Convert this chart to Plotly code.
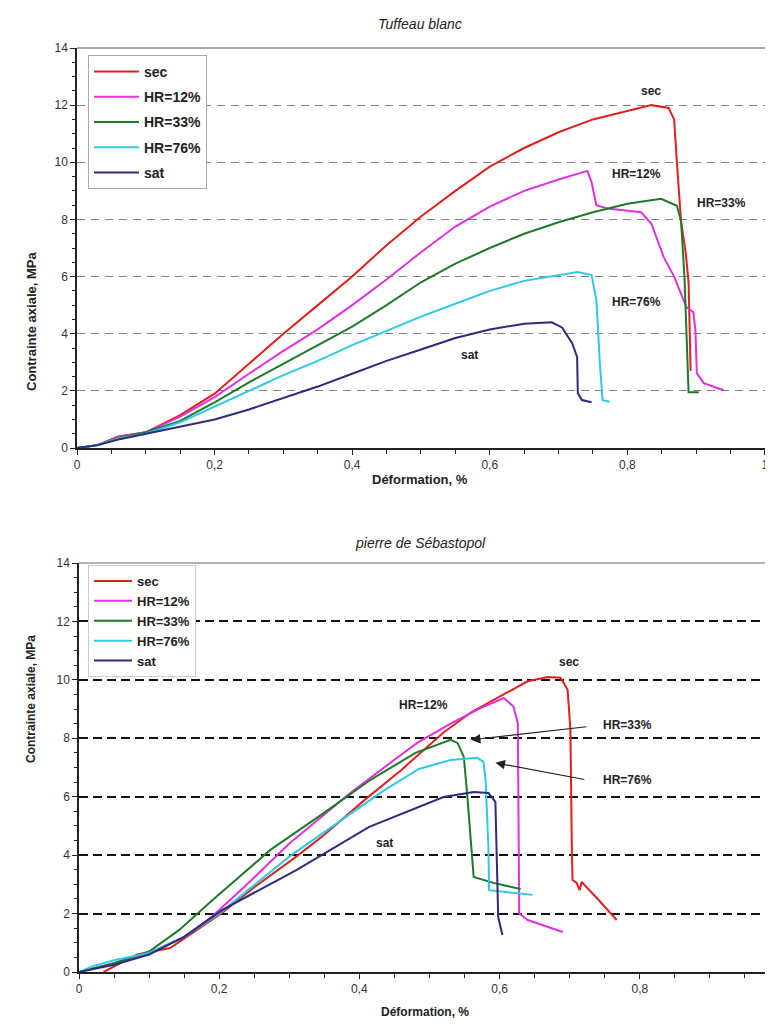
import plotly.graph_objects as go

# ---------------- data : Tuffeau blanc ----------------
names = ["sec", "HR=12%", "HR=33%", "HR=76%", "sat"]
colors = ["#e0201e", "#e030e0", "#1e7a2a", "#30c8e8", "#2c2c7c"]

t_sec_x = [0, 0.03, 0.06, 0.1, 0.15, 0.2, 0.25, 0.3, 0.35, 0.4, 0.45, 0.5, 0.55, 0.6, 0.65, 0.7, 0.75, 0.8,
           0.835, 0.86, 0.868, 0.872, 0.878, 0.885, 0.889, 0.892]
t_sec_y = [0, 0.1, 0.4, 0.55, 1.15, 1.9, 2.95, 4.0, 5.0, 6.0, 7.1, 8.1, 9.0, 9.85, 10.5, 11.05, 11.5, 11.8,
           12.0, 11.9, 11.5, 10.0, 7.96, 6.8, 5.8, 2.7]

t_h12_x = [0, 0.03, 0.06, 0.1, 0.15, 0.2, 0.25, 0.3, 0.35, 0.4, 0.45, 0.5, 0.55, 0.6, 0.65, 0.7, 0.742,
           0.748, 0.755, 0.771, 0.82, 0.835, 0.853, 0.868, 0.886, 0.896, 0.899, 0.901, 0.911, 0.94]
t_h12_y = [0, 0.1, 0.38, 0.55, 1.1, 1.78, 2.6, 3.4, 4.15, 5.0, 5.9, 6.85, 7.75, 8.45, 9.0, 9.4, 9.7,
           9.3, 8.5, 8.38, 8.25, 7.85, 6.67, 6.0, 4.92, 4.75, 4.12, 2.62, 2.27, 2.02]

t_h33_x = [0, 0.03, 0.06, 0.1, 0.15, 0.2, 0.25, 0.3, 0.35, 0.4, 0.45, 0.5, 0.55, 0.6, 0.65, 0.7, 0.75, 0.8,
           0.849, 0.872, 0.878, 0.883, 0.886, 0.889, 0.904]
t_h33_y = [0, 0.1, 0.35, 0.55, 0.95, 1.6, 2.3, 2.95, 3.6, 4.25, 5.0, 5.8, 6.45, 7.0, 7.5, 7.9, 8.25, 8.55,
           8.72, 8.48, 7.95, 6.0, 4.0, 1.95, 1.95]

t_h76_x = [0, 0.03, 0.06, 0.1, 0.15, 0.2, 0.25, 0.3, 0.35, 0.4, 0.45, 0.5, 0.55, 0.6, 0.65, 0.7, 0.728,
           0.748, 0.755, 0.76, 0.762, 0.764, 0.774]
t_h76_y = [0, 0.1, 0.33, 0.5, 0.9, 1.45, 2.0, 2.55, 3.05, 3.6, 4.1, 4.6, 5.05, 5.5, 5.85, 6.05, 6.16,
           6.05, 5.17, 2.97, 2.27, 1.68, 1.62]

t_sat_x = [0, 0.03, 0.06, 0.1, 0.15, 0.2, 0.25, 0.3, 0.35, 0.4, 0.45, 0.5, 0.55, 0.6, 0.65, 0.69,
           0.705, 0.72, 0.727, 0.728, 0.734, 0.748]
t_sat_y = [0, 0.1, 0.3, 0.5, 0.75, 1.0, 1.35, 1.75, 2.15, 2.6, 3.05, 3.45, 3.85, 4.15, 4.35, 4.4,
           4.22, 3.66, 3.18, 1.92, 1.68, 1.6]

# ---------------- data : pierre de Sébastopol ----------------
s_sec_x = [0.035, 0.06, 0.083, 0.13, 0.169, 0.204, 0.25, 0.31, 0.35, 0.408, 0.459, 0.52, 0.56, 0.606, 0.64,
           0.669, 0.687, 0.697, 0.701, 0.703, 0.704, 0.71, 0.714, 0.717, 0.74, 0.767]
s_sec_y = [0, 0.3, 0.6, 0.82, 1.44, 2.02, 2.9, 3.95, 4.7, 5.9, 6.9, 8.2, 8.9, 9.5, 9.95,
           10.1, 10.07, 9.66, 8.29, 4.28, 3.15, 3.05, 2.8, 3.08, 2.5, 1.78]

s_h12_x = [0, 0.05, 0.1, 0.15, 0.19, 0.244, 0.3, 0.387, 0.459, 0.483, 0.53, 0.577, 0.606, 0.62, 0.626,
           0.627, 0.628, 0.64, 0.69]
s_h12_y = [0, 0.3, 0.65, 1.2, 1.9, 3.1, 4.4, 6.13, 7.43, 7.85, 8.5, 9.08, 9.38, 9.08, 8.5,
           4.3, 2.0, 1.78, 1.37]

s_h33_x = [0, 0.05, 0.1, 0.143, 0.191, 0.273, 0.349, 0.416, 0.48, 0.53, 0.54, 0.549, 0.554, 0.559, 0.563,
           0.591, 0.63]
s_h33_y = [0, 0.3, 0.7, 1.44, 2.47, 4.18, 5.44, 6.58, 7.5, 7.95, 7.84, 7.36, 6.0, 4.28, 3.25,
           3.05, 2.84]

s_h76_x = [0, 0.02, 0.05, 0.1, 0.15, 0.2, 0.3, 0.38, 0.434, 0.485, 0.53, 0.568, 0.577, 0.58, 0.584,
           0.585, 0.647]
s_h76_y = [0, 0.2, 0.4, 0.65, 1.2, 2.0, 3.95, 5.3, 6.2, 6.95, 7.26, 7.33, 7.19, 6.57, 4.28,
           2.8, 2.64]

s_sat_x = [0, 0.05, 0.1, 0.15, 0.204, 0.31, 0.414, 0.459, 0.52, 0.563, 0.584, 0.594, 0.598, 0.604]
s_sat_y = [0, 0.25, 0.6, 1.2, 2.12, 3.49, 4.97, 5.4, 5.99, 6.16, 6.13, 5.82, 1.88, 1.27]

y_ticks = [0, 2, 4, 6, 8, 10, 12, 14]
x_ticks = [0, 0.2, 0.4, 0.6, 0.8, 1]

top_series = [(t_sec_x, t_sec_y), (t_h12_x, t_h12_y), (t_h33_x, t_h33_y), (t_h76_x, t_h76_y), (t_sat_x, t_sat_y)]
bot_series = [(s_sec_x, s_sec_y), (s_h12_x, s_h12_y), (s_h33_x, s_h33_y), (s_h76_x, s_h76_y), (s_sat_x, s_sat_y)]

FONT = "Liberation Sans, Arial, sans-serif"
OFF = 8            # page body margin
W, H = 773 - OFF, 1036 - OFF

def PX(p):
    return (p - OFF) / W

def PY(p):
    return 1 - (p - OFF) / H

fig = go.Figure()

for i, (xs, ys) in enumerate(top_series):
    fig.add_trace(go.Scatter(x=xs, y=ys, mode="lines", name=names[i], xaxis="x", yaxis="y",
                             line=dict(color=colors[i], width=2), legend="legend",
                             legendgroup="t" + str(i)))
for i, (xs, ys) in enumerate(bot_series):
    fig.add_trace(go.Scatter(x=xs, y=ys, mode="lines", name=names[i], xaxis="x2", yaxis="y2",
                             line=dict(color=colors[i], width=2), legend="legend2",
                             legendgroup="b" + str(i)))

def xax(domain, rng, anchor):
    return dict(domain=domain, range=rng, anchor=anchor, tickvals=x_ticks, showline=True,
                linecolor="#222", linewidth=1.5, ticks="outside", ticklen=5, tickcolor="#222",
                minor=dict(dtick=0.05, ticks="outside", ticklen=4, tickcolor="#222"),
                showgrid=False, zeroline=False, automargin=False, ticklabeloverflow="allow",
                tickfont=dict(family=FONT, size=12, color="#333"))

def yax(domain, anchor, gridcolor, gridwidth, dash):
    return dict(domain=domain, range=[0, 14], anchor=anchor, tickvals=y_ticks, showline=True,
                linecolor="#222", linewidth=1.5, ticks="outside", ticklen=5, tickcolor="#222",
                minor=dict(dtick=0.5, ticks="outside", ticklen=3, tickcolor="#222"),
                showgrid=True, gridcolor=gridcolor, gridwidth=gridwidth, griddash=dash,
                zeroline=False, automargin=False,
                tickfont=dict(family=FONT, size=12, color="#333"))

fig.update_layout(
    width=W, height=H, margin=dict(l=0, r=0, t=0, b=0),
    paper_bgcolor="white", plot_bgcolor="white", separators=", ",
    xaxis=xax([PX(77), PX(767)], [0, 1.003], "y"),
    yaxis=yax([PY(448), PY(48)], "x", "#808080", 1, "8px,6px"),
    xaxis2=xax([PX(79), 1.0], [0, 0.99], "y2"),
    yaxis2=yax([PY(972), PY(563)], "x2", "#111", 1.6, "9px,5px"),
    legend=dict(x=PX(88), y=PY(55), xanchor="left", yanchor="top", bgcolor="white",
                bordercolor="#aaa", borderwidth=1, traceorder="grouped", tracegroupgap=4,
                font=dict(family=FONT, size=14, color="#222", weight="bold"), itemwidth=45),
    legend2=dict(x=PX(88), y=PY(565), xanchor="left", yanchor="top", bgcolor="white",
                 bordercolor="#ccc", borderwidth=1, traceorder="grouped", tracegroupgap=0,
                 font=dict(family=FONT, size=13, color="#222", weight="bold"), itemwidth=38),
    showlegend=True,
)

# frame lines (top / right) in grey
fig.add_shape(type="line", xref="x domain", yref="y domain", x0=0, x1=1, y0=1, y1=1,
              line=dict(color="#888", width=1.5))
fig.add_shape(type="line", xref="x domain", yref="y domain", x0=1, x1=1, y0=0, y1=1,
              line=dict(color="#666", width=1.5))
fig.add_shape(type="line", xref="x2 domain", yref="y2 domain", x0=0, x1=1, y0=1, y1=1,
              line=dict(color="#999", width=1.5))

ann = []
def txt(x, y, s, xref="paper", yref="paper", size=12, bold=True, italic=False, angle=0, color="#222"):
    if bold:
        s = "<b>" + s + "</b>"
    if italic:
        s = "<i>" + s + "</i>"
    ann.append(dict(x=x, y=y, xref=xref, yref=yref, text=s, showarrow=False, textangle=angle,
                    font=dict(family=FONT, size=size, color=color)))

# titles
txt(PX(420), PY(14), "Tuffeau blanc", size=14, bold=False, italic=True)
txt(PX(420), PY(543), "pierre de Sébastopol", size=14, bold=False, italic=True)
txt(PX(420), PY(480), "Déformation, %", size=13)
txt(PX(425), PY(1021), "Déformation, %", size=12)
txt(PX(22), PY(250), "Contrainte axiale, MPa", size=13, angle=-90)
txt(PX(22), PY(765), "Contrainte axiale, MPa", size=12, angle=-90)

# curve labels top
txt(0.835, 12.5, "sec", "x", "y")
txt(0.813, 9.6, "HR=12%", "x", "y")
txt(0.937, 8.58, "HR=33%", "x", "y")
txt(0.813, 5.1, "HR=76%", "x", "y")
txt(0.57, 3.25, "sat", "x", "y")

# curve labels bottom
txt(0.699, 10.6, "sec", "x2", "y2")
txt(0.491, 9.14, "HR=12%", "x2", "y2")
txt(0.783, 8.46, "HR=33%", "x2", "y2")
txt(0.783, 6.58, "HR=76%", "x2", "y2")
txt(0.436, 4.42, "sat", "x2", "y2")

for (tx, ty, hx, hy) in [(0.726, 8.4, 0.559, 7.95), (0.723, 6.58, 0.594, 7.16)]:
    ann.append(dict(x=hx, y=hy, xref="x2", yref="y2", ax=tx, ay=ty, axref="x2", ayref="y2",
                    text="", showarrow=True, arrowhead=2, arrowsize=1.6, arrowwidth=1.2,
                    arrowcolor="#222"))

fig.update_layout(annotations=ann)
fig.write_html("out.html")
